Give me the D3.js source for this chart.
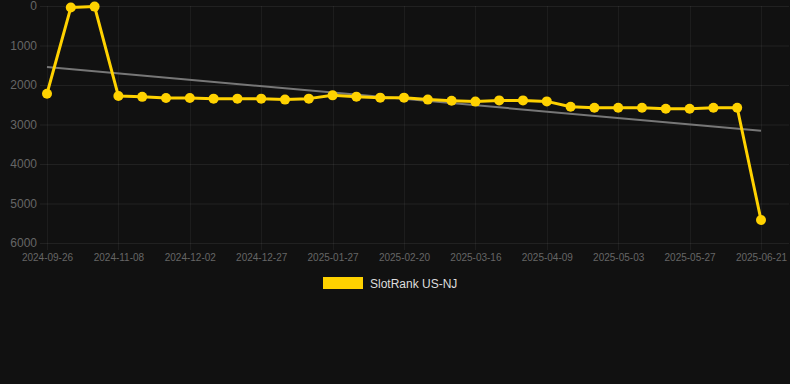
<script src="https://cdn.jsdelivr.net/npm/d3@7"></script>
<html>
<head>
<style>
  body { margin: 0; background: #111111; }
  svg { display: block; font-family: "Liberation Sans", Arial, sans-serif; }
</style>
</head>
<body>
<div class="chart"></div>
<script>
  // point dates (every third one is shown on the axis)
  const dates = [
    '2024-09-26', '2024-10-10', '2024-10-24', '2024-11-08', '2024-11-16', '2024-11-24',
    '2024-12-02', '2024-12-10', '2024-12-18', '2024-12-27', '2025-01-06', '2025-01-16',
    '2025-01-27', '2025-02-04', '2025-02-12', '2025-02-20', '2025-02-28', '2025-03-08',
    '2025-03-16', '2025-03-24', '2025-04-01', '2025-04-09', '2025-04-17', '2025-04-25',
    '2025-05-03', '2025-05-11', '2025-05-19', '2025-05-27', '2025-06-04', '2025-06-12',
    '2025-06-21'
  ];
  const ranks = [
    2220, 40, 15, 2280, 2300, 2330, 2330, 2345, 2345, 2345, 2370, 2345,
    2262, 2295, 2320, 2320, 2370, 2397, 2420, 2390, 2390, 2415, 2550, 2575,
    2575, 2575, 2600, 2600, 2575, 2575, 5418
  ];
  const yTicks = [0, 1000, 2000, 3000, 4000, 5000, 6000];
  const seriesName = 'SlotRank US-NJ';

  const width = 790, height = 384;
  const svg = d3.select('.chart').append('svg')
    .attr('width', width)
    .attr('height', height);

  svg.append('rect').attr('width', width).attr('height', height).attr('fill', '#111111');

  const x = d3.scalePoint().domain(dates).range([47, 761]);
  const y = d3.scaleLinear().domain([0, 6000]).range([6, 243]);

  const shown = dates.filter((d, i) => i % 3 === 0);

  // grid
  svg.append('g').selectAll('line')
    .data(yTicks)
    .enter().append('line')
    .attr('x1', 40).attr('x2', 789)
    .attr('y1', d => y(d) + 0.5).attr('y2', d => y(d) + 0.5)
    .attr('stroke', 'rgba(255,255,255,0.07)');

  svg.append('g').selectAll('line')
    .data(shown)
    .enter().append('line')
    .attr('x1', d => Math.round(x(d)) + 0.5).attr('x2', d => Math.round(x(d)) + 0.5)
    .attr('y1', 6).attr('y2', 250)
    .attr('stroke', 'rgba(255,255,255,0.05)');

  // axes
  const yAxis = svg.append('g')
    .attr('transform', 'translate(37,0)')
    .call(d3.axisLeft(y).tickValues(yTicks).tickSize(0).tickPadding(0).tickFormat(d3.format('d')));
  yAxis.select('.domain').remove();
  yAxis.selectAll('text').attr('fill', '#666').attr('font-size', '12px');

  const xAxis = svg.append('g')
    .attr('transform', 'translate(0,250)')
    .call(d3.axisBottom(x).tickValues(shown).tickSize(0).tickPadding(4));
  xAxis.select('.domain').remove();
  xAxis.selectAll('text').attr('fill', '#666').attr('font-size', '10px');

  // trend (least squares on the series)
  const n = ranks.length;
  const mx = d3.mean(ranks, (d, i) => i);
  const my = d3.mean(ranks);
  const slope = d3.sum(ranks, (d, i) => (i - mx) * (d - my)) / d3.sum(ranks, (d, i) => (i - mx) * (i - mx));
  const icpt = my - slope * mx;
  svg.append('line')
    .attr('x1', x(dates[0])).attr('y1', y(icpt))
    .attr('x2', x(dates[n - 1])).attr('y2', y(icpt + slope * (n - 1)))
    .attr('stroke', '#777')
    .attr('stroke-width', 2);

  // series
  const line = d3.line()
    .x((d, i) => x(dates[i]))
    .y(d => y(d));

  svg.append('path')
    .datum(ranks)
    .attr('d', line)
    .attr('fill', 'none')
    .attr('stroke', '#ffd200')
    .attr('stroke-width', 3)
    .attr('stroke-linejoin', 'round');

  svg.append('g').selectAll('circle')
    .data(ranks)
    .enter().append('circle')
    .attr('cx', (d, i) => x(dates[i]))
    .attr('cy', d => y(d))
    .attr('r', 5)
    .attr('fill', '#ffd200');

  // legend
  svg.append('rect')
    .attr('x', 323).attr('y', 277)
    .attr('width', 40).attr('height', 12)
    .attr('fill', '#ffd200');
  svg.append('text')
    .attr('x', 370).attr('y', 288)
    .attr('fill', '#dddddd')
    .attr('font-size', '12px')
    .text(seriesName);
</script>
</body>
</html>
